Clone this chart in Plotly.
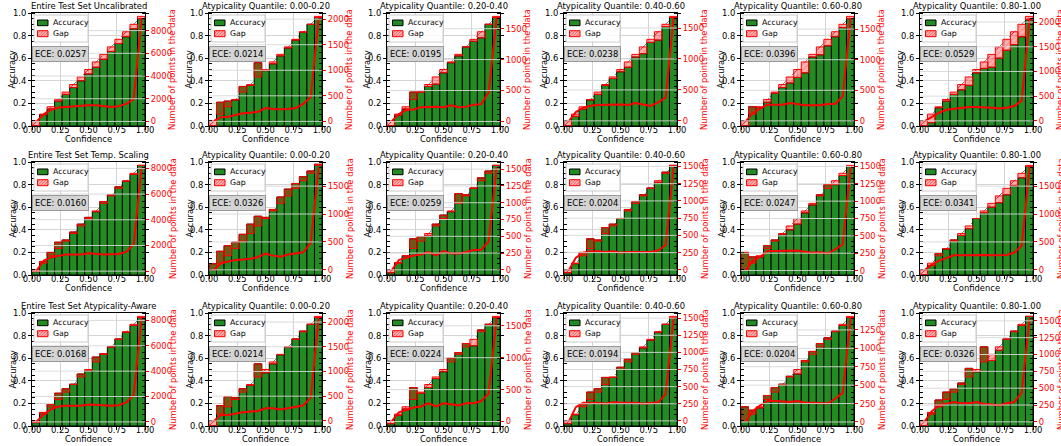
import numpy as np
import plotly.graph_objects as go

N_BINS = 15
# mean confidence per bin (gap bars end here)
conf = [0.045, 0.105, 0.17, 0.235, 0.3, 0.367, 0.434, 0.5, 0.567, 0.634, 0.7, 0.767, 0.834, 0.9, 0.97]

# ---- accuracy per bin ----
acc_unc_all = [0.0, 0.10, 0.15, 0.22, 0.28, 0.34, 0.40, 0.46, 0.52, 0.59, 0.66, 0.73, 0.79, 0.86, 0.95]
acc_unc_q1 = [0.0, 0.21, 0.22, 0.23, 0.35, 0.36, 0.56, 0.49, 0.55, 0.62, 0.69, 0.76, 0.83, 0.90, 0.96]
acc_unc_q2 = [0.0, 0.095, 0.15, 0.30, 0.30, 0.35, 0.37, 0.47, 0.56, 0.62, 0.70, 0.75, 0.78, 0.90, 0.96]
acc_unc_q3 = [0.0, 0.085, 0.15, 0.23, 0.28, 0.36, 0.42, 0.48, 0.52, 0.61, 0.64, 0.74, 0.76, 0.88, 0.96]
acc_unc_q4 = [0.0, 0.17, 0.165, 0.21, 0.29, 0.34, 0.38, 0.43, 0.47, 0.61, 0.63, 0.71, 0.79, 0.87, 0.95]
acc_unc_q5 = [0.0, 0.03, 0.16, 0.22, 0.28, 0.32, 0.36, 0.47, 0.51, 0.52, 0.60, 0.67, 0.72, 0.79, 0.94]

acc_ts_all = [0.03, 0.12, 0.20, 0.29, 0.31, 0.38, 0.45, 0.51, 0.56, 0.65, 0.71, 0.78, 0.83, 0.89, 0.97]
acc_ts_q1 = [0.10, 0.21, 0.26, 0.29, 0.36, 0.45, 0.52, 0.51, 0.58, 0.69, 0.76, 0.81, 0.87, 0.92, 0.98]
acc_ts_q2 = [0.02, 0.11, 0.17, 0.32, 0.34, 0.35, 0.45, 0.53, 0.56, 0.72, 0.71, 0.77, 0.86, 0.92, 0.97]
acc_ts_q3 = [0.02, 0.10, 0.20, 0.32, 0.31, 0.42, 0.45, 0.50, 0.58, 0.65, 0.71, 0.77, 0.82, 0.91, 0.97]
acc_ts_q4 = [0.20, 0.16, 0.16, 0.26, 0.31, 0.36, 0.40, 0.45, 0.55, 0.62, 0.71, 0.80, 0.80, 0.88, 0.96]
acc_ts_q5 = [0.0, 0.085, 0.19, 0.23, 0.31, 0.35, 0.41, 0.50, 0.55, 0.60, 0.64, 0.71, 0.79, 0.86, 0.96]

acc_aa_all = [0.03, 0.12, 0.19, 0.29, 0.33, 0.37, 0.46, 0.49, 0.61, 0.64, 0.70, 0.77, 0.83, 0.89, 0.96]
acc_aa_q1 = [0.0, 0.18, 0.26, 0.25, 0.33, 0.36, 0.55, 0.47, 0.55, 0.63, 0.70, 0.77, 0.84, 0.90, 0.96]
acc_aa_q2 = [0.02, 0.095, 0.15, 0.34, 0.29, 0.34, 0.42, 0.48, 0.60, 0.65, 0.73, 0.71, 0.85, 0.90, 0.96]
acc_aa_q3 = [0.02, 0.10, 0.19, 0.30, 0.33, 0.43, 0.43, 0.52, 0.59, 0.65, 0.69, 0.76, 0.83, 0.90, 0.96]
acc_aa_q4 = [0.17, 0.14, 0.16, 0.27, 0.34, 0.37, 0.44, 0.46, 0.58, 0.66, 0.73, 0.78, 0.84, 0.89, 0.96]
acc_aa_q5 = [0.0, 0.12, 0.23, 0.30, 0.33, 0.38, 0.51, 0.48, 0.70, 0.58, 0.67, 0.77, 0.84, 0.89, 0.97]

# ---- number of points per bin ----
cnt_unc_all = [50, 640, 1020, 1230, 1280, 1340, 1400, 1430, 1430, 1340, 1280, 1340, 1550, 1960, 9100]
cnt_unc_q1 = [10, 80, 90, 130, 160, 170, 190, 260, 240, 235, 240, 260, 340, 470, 2020]
cnt_unc_q2 = [10, 120, 185, 195, 230, 240, 240, 230, 260, 230, 240, 270, 280, 470, 1670]
cnt_unc_q3 = [0, 145, 215, 245, 255, 260, 265, 265, 255, 290, 265, 240, 300, 380, 1660]
cnt_unc_q4 = [0, 130, 200, 265, 265, 265, 290, 275, 255, 255, 255, 275, 275, 400, 1680]
cnt_unc_q5 = [0, 80, 165, 225, 240, 265, 280, 280, 280, 265, 250, 265, 300, 410, 2080]

cnt_ts_all = [100, 830, 1080, 1210, 1290, 1290, 1290, 1390, 1340, 1290, 1320, 1340, 1500, 2100, 8100]
cnt_ts_q1 = [0, 115, 150, 175, 185, 200, 230, 290, 255, 235, 275, 290, 315, 480, 1840]
cnt_ts_q2 = [0, 145, 180, 215, 230, 265, 215, 280, 245, 245, 265, 295, 300, 425, 1530]
cnt_ts_q3 = [0, 175, 250, 270, 270, 260, 270, 250, 260, 260, 250, 260, 280, 360, 1490]
cnt_ts_q4 = [10, 140, 200, 280, 280, 280, 290, 290, 270, 255, 265, 245, 305, 375, 1490]
cnt_ts_q5 = [0, 95, 165, 210, 260, 260, 265, 270, 265, 260, 260, 265, 310, 430, 1840]

cnt_aa_all = [80, 600, 1000, 1210, 1270, 1270, 1270, 1370, 1320, 1270, 1270, 1320, 1530, 2110, 8180]
cnt_aa_q1 = [0, 120, 120, 155, 175, 190, 200, 255, 255, 230, 255, 270, 310, 470, 2080]
cnt_aa_q2 = [10, 145, 180, 220, 235, 285, 235, 285, 270, 250, 285, 285, 320, 440, 1620]
cnt_aa_q3 = [0, 200, 265, 270, 265, 250, 270, 265, 270, 265, 250, 255, 270, 390, 1500]
cnt_aa_q4 = [15, 150, 225, 285, 285, 280, 270, 285, 260, 260, 260, 250, 315, 395, 1410]
cnt_aa_q5 = [15, 160, 245, 275, 295, 275, 275, 295, 265, 260, 245, 275, 295, 435, 1540]

ece_unc = [0.0257, 0.0214, 0.0195, 0.0238, 0.0396, 0.0529]
ece_ts = [0.0160, 0.0326, 0.0259, 0.0204, 0.0247, 0.0341]
ece_aa = [0.0168, 0.0214, 0.0224, 0.0194, 0.0204, 0.0326]

y2_step_unc = [2000, 500, 500, 500, 500, 500]
y2_step_ts = [2000, 500, 250, 250, 250, 500]
y2_step_aa = [2000, 500, 500, 250, 250, 250]

row_names = ["Entire Test Set Uncalibrated", "Entire Test Set Temp. Scaling",
             "Entire Test Set Atypicality-Aware"]
quantiles = ["0.00-0.20", "0.20-0.40", "0.40-0.60", "0.60-0.80", "0.80-1.00"]
legend_labels = ["Accuracy", "Gap"]
x_title, y_title, y2_title = "Confidence", "Accuracy", "Number of points in the data"

acc_rows = [[acc_unc_all, acc_unc_q1, acc_unc_q2, acc_unc_q3, acc_unc_q4, acc_unc_q5],
            [acc_ts_all, acc_ts_q1, acc_ts_q2, acc_ts_q3, acc_ts_q4, acc_ts_q5],
            [acc_aa_all, acc_aa_q1, acc_aa_q2, acc_aa_q3, acc_aa_q4, acc_aa_q5]]
cnt_rows = [[cnt_unc_all, cnt_unc_q1, cnt_unc_q2, cnt_unc_q3, cnt_unc_q4, cnt_unc_q5],
            [cnt_ts_all, cnt_ts_q1, cnt_ts_q2, cnt_ts_q3, cnt_ts_q4, cnt_ts_q5],
            [cnt_aa_all, cnt_aa_q1, cnt_aa_q2, cnt_aa_q3, cnt_aa_q4, cnt_aa_q5]]
ece_rows = [ece_unc, ece_ts, ece_aa]
step_rows = [y2_step_unc, y2_step_ts, y2_step_aa]

# ---- layout geometry (pixels) ----
W, H = 1061, 446
col_left = [32, 209, 387, 564, 741, 920]
row_top = [13, 162, 313]
PW, PH = 113, 113
FS = 8.4
LFS = 7.8
GREEN = "#228B22"
GAP_FILL = "rgba(255,0,0,0.3)"

centers = (np.arange(N_BINS) + 0.5) / N_BINS
bw = 1.0 / N_BINS
cf = np.array(conf)

fig = go.Figure()
shapes, annotations = [], []
lay = dict(template="none", width=W, height=H, autosize=False,
           margin=dict(l=0, r=0, t=0, b=0, pad=0), showlegend=False,
           barmode="overlay", plot_bgcolor="white", paper_bgcolor="white",
           font=dict(family="DejaVu Sans", size=FS, color="black"))


def dx(px):
    return px / PW


def dy_top(px):
    return 1 - px / PH


for r in range(3):
    for c in range(6):
        k = r * 6 + c
        sfx = "" if k == 0 else str(k + 1)
        xid, yid, y2id = "x" + sfx, "y" + sfx, f"y{k + 19}"
        xd, yd = f"{xid} domain", f"{yid} domain"
        acc = np.array(acc_rows[r][c])
        cnt = np.array(cnt_rows[r][c])
        step = step_rows[r][c]
        title = row_names[r] if c == 0 else f"Atypicality Quantile: {quantiles[c - 1]}"

        fig.add_trace(go.Bar(x=centers, y=acc, width=bw, name=legend_labels[0],
                             marker=dict(color=GREEN, line=dict(color="black", width=1)),
                             xaxis=xid, yaxis=yid))
        fig.add_trace(go.Bar(x=centers, y=np.abs(acc - cf), base=np.minimum(acc, cf), width=bw,
                             name=legend_labels[1],
                             marker=dict(color=GAP_FILL, line=dict(color="red", width=1),
                                         pattern=dict(shape="/", fgcolor="rgba(255,0,0,0.45)",
                                                      size=4, solidity=0.3, fillmode="overlay")),
                             xaxis=xid, yaxis=yid))
        fig.add_trace(go.Scatter(x=cf, y=cnt, mode="lines", line=dict(color="red", width=2),
                                 xaxis=xid, yaxis=y2id))

        x0 = col_left[c] / W
        x1 = (col_left[c] + PW) / W
        ytop = 1 - row_top[r] / H
        ybot = 1 - (row_top[r] + PH) / H

        lay["xaxis" + sfx] = dict(domain=[x0, x1], anchor=yid, range=[0, 1], automargin=False,
                                  tickvals=[0, 0.25, 0.5, 0.75, 1.0], tickformat=".2f",
                                  ticks="outside", ticklen=3, tickcolor="black",
                                  ticklabelstandoff=-7,
                                  showline=True, linecolor="black", linewidth=1, mirror=True,
                                  showgrid=True, gridcolor="#d4d4d4", zeroline=False)
        lay["yaxis" + sfx] = dict(domain=[ybot, ytop], anchor=xid, range=[0, 1], dtick=0.2, tick0=0,
                                  automargin=False,
                                  tickformat=".1f", ticks="outside", ticklen=3, tickcolor="black",
                                  showline=True, linecolor="black", linewidth=1, mirror="allticks",
                                  showgrid=True, gridcolor="#d4d4d4", zeroline=False,
                                  minor=dict(ticks="inside", ticklen=3, tickcolor="black",
                                             dtick=0.05, showgrid=False))
        lo, hi = float(cnt.min()), float(cnt.max())
        span = hi - lo
        lay[f"yaxis{k + 19}"] = dict(overlaying=yid, side="right", anchor=xid, automargin=False,
                                     range=[lo - 0.05 * span, hi + 0.05 * span],
                                     tick0=0, dtick=step, tickformat="d", ticks="outside",
                                     ticklen=3, tickcolor="red", tickfont=dict(color="red"),
                                     showgrid=False, zeroline=False, showline=False)

        # secondary-axis grid drawn over the bars
        for v in np.arange(0, hi + 0.05 * span, step):
            shapes.append(dict(type="line", xref=xd, x0=0, x1=1, yref=y2id, y0=v, y1=v,
                               line=dict(color="rgba(215,215,215,0.9)", width=1), layer="above"))
        # perfect-calibration diagonal
        shapes.append(dict(type="line", xref=xd, yref=yd, x0=0, y0=0, x1=1, y1=1,
                           line=dict(color="gray", width=1, dash="dash"), layer="below"))

        # ---- legend (per panel) ----
        shapes.append(dict(type="rect", xref=xd, yref=yd, x0=dx(2), x1=dx(56),
                           y0=dy_top(29), y1=dy_top(2), fillcolor="rgba(255,255,255,0.85)",
                           line=dict(color="#cccccc", width=1), layer="above"))
        shapes.append(dict(type="rect", xref=xd, yref=yd, x0=dx(5.5), x1=dx(16),
                           y0=dy_top(12.7), y1=dy_top(7), fillcolor=GREEN,
                           line=dict(color="black", width=1), layer="above"))
        gx0, gx1, gtop, gbot = 5.5, 16.0, 17.7, 23.7
        shapes.append(dict(type="rect", xref=xd, yref=yd, x0=dx(gx0), x1=dx(gx1),
                           y0=dy_top(gbot), y1=dy_top(gtop), fillcolor=GAP_FILL,
                           line=dict(color="red", width=1), layer="above"))
        hgt = gbot - gtop
        for a in np.arange(gx0 - hgt, gx1, 3.0):
            t0 = max(0.0, (gx0 - a) / hgt)
            t1 = min(1.0, (gx1 - a) / hgt)
            if t1 > t0:
                shapes.append(dict(type="line", xref=xd, yref=yd,
                                   x0=dx(a + t0 * hgt), y0=dy_top(gbot - t0 * hgt),
                                   x1=dx(a + t1 * hgt), y1=dy_top(gbot - t1 * hgt),
                                   line=dict(color="rgba(255,0,0,0.6)", width=0.8), layer="above"))
        annotations.append(dict(text=legend_labels[0], xref=xd, yref=yd, x=dx(18.5), y=dy_top(9.9),
                                xanchor="left", yanchor="middle", showarrow=False,
                                font=dict(size=LFS)))
        annotations.append(dict(text=legend_labels[1], xref=xd, yref=yd, x=dx(18.5), y=dy_top(20.7),
                                xanchor="left", yanchor="middle", showarrow=False,
                                font=dict(size=LFS)))

        # ---- titles ----
        annotations.append(dict(text=title, xref=xd, yref=yd,
                                x=0.5, y=1, xanchor="center", yanchor="bottom",
                                showarrow=False, font=dict(size=FS)))
        annotations.append(dict(text=x_title, xref=xd, yref=yd, x=0.5, y=0, yshift=-13,
                                xanchor="center", yanchor="middle", showarrow=False,
                                font=dict(size=FS)))
        annotations.append(dict(text=y_title, xref=xd, yref=yd, x=0, xshift=-20, y=0.5,
                                textangle=-90, xanchor="center", yanchor="middle",
                                showarrow=False, font=dict(size=FS)))
        annotations.append(dict(text=y2_title, xref=xd, yref=yd, x=1, xshift=27.5, y=0.5,
                                textangle=-90, xanchor="center", yanchor="middle",
                                showarrow=False, font=dict(size=FS, color="red")))
        annotations.append(dict(text=f"ECE: {ece_rows[r][c]:.4f}", xref=xd,
                                yref=yd, x=0, y=0.64, xanchor="left",
                                yanchor="middle", showarrow=False, bgcolor="#d4d4d4",
                                bordercolor="#999999", borderwidth=1, borderpad=2,
                                font=dict(size=FS)))

lay["shapes"] = shapes
lay["annotations"] = annotations
fig.update_layout(**lay)
fig.write_html("out.html", config={"displayModeBar": False},
               post_script="document.body.style.margin='0';")
